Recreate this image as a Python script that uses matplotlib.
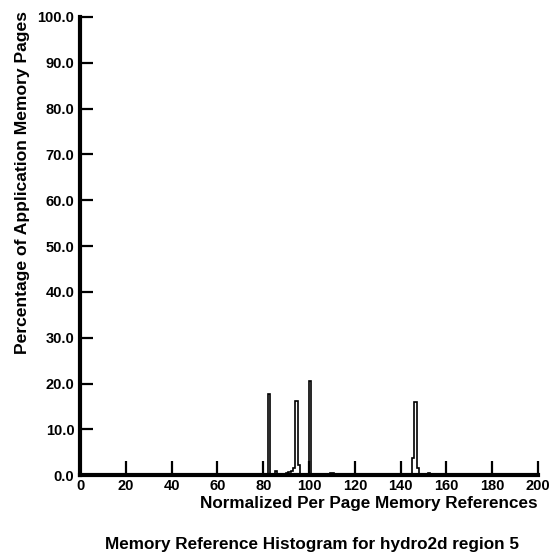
import numpy as np
import matplotlib.pyplot as plt

plt.rcParams['font.family'] = ['Liberation Sans', 'DejaVu Sans']
plt.rcParams['font.weight'] = 'bold'

# histogram bins (width 1) with non-zero heights
bin_starts = [74, 82, 84, 85, 90, 91, 92, 93, 94, 95, 100, 107, 109, 110,
              145, 146, 147, 152, 153]
bin_heights = [0.3, 17.8, 0.3, 1.0, 0.4, 0.7, 1.0, 1.6, 16.2, 2.3, 20.5, 0.3, 0.4, 0.4,
               3.8, 16.0, 1.6, 0.4, 0.3]

xticks = list(range(0, 201, 20))
yticks = [i * 10.0 for i in range(11)]

edges = np.arange(0, 201, 1)
counts = np.zeros(len(edges) - 1)
for s, h in zip(bin_starts, bin_heights):
    counts[s] = h

fig = plt.figure(figsize=(5.53, 5.59), dpi=100)
ax = fig.add_axes([0.1447, 0.150, 0.8283, 0.8196])

ax.stairs(counts, edges, color='black', linewidth=1.2)

ax.set_xlim(0, 200)
ax.set_ylim(0, 100)
ax.set_xticks(xticks)
ax.set_yticks(yticks)
ax.set_yticklabels(['%.1f' % v for v in yticks])

for side in ['top', 'right']:
    ax.spines[side].set_visible(False)
for side in ['left', 'bottom']:
    ax.spines[side].set_linewidth(3)

ax.tick_params(axis='both', direction='in', length=9, width=1.6, labelsize=10.5, pad=4)
ax.tick_params(axis='x', length=10, pad=3)

ax.set_xlabel('Normalized Per Page Memory References', fontsize=12.3, fontweight='bold', loc='right')
ax.set_ylabel('Percentage of Application Memory Pages', fontsize=12.6, fontweight='bold', loc='top')
ax.xaxis.set_label_coords(1.0, -0.045)
ax.yaxis.set_label_coords(-0.11, 1.012)
fig.text(0.564, 0.018, 'Memory Reference Histogram for hydro2d region 5', ha='center',
         fontsize=12.3, fontweight='bold')

fig.savefig('out.png', dpi=100)
